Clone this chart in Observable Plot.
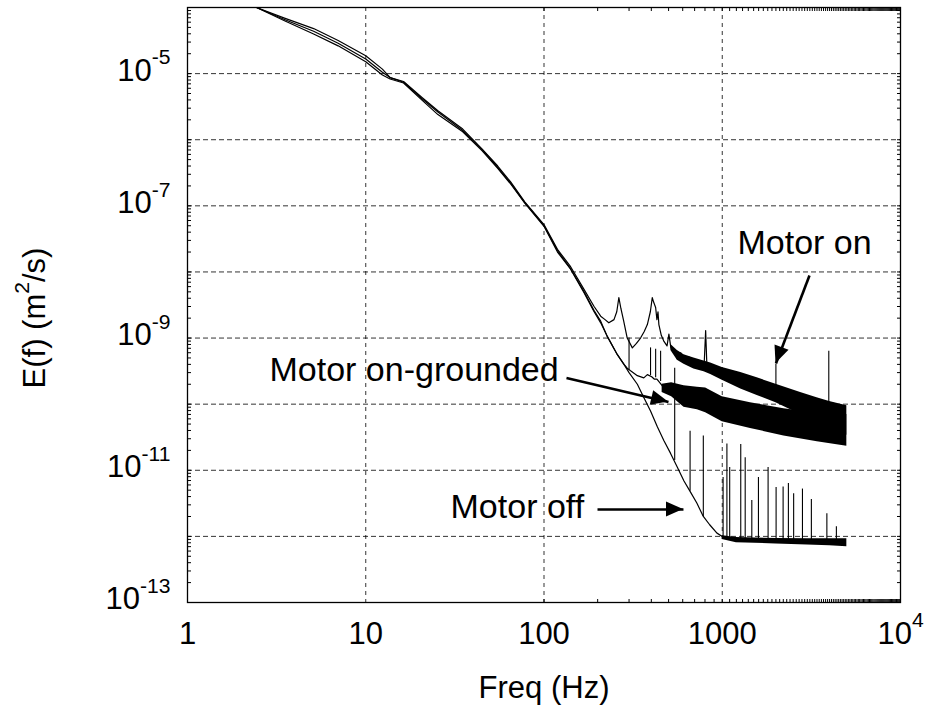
<!DOCTYPE html>
<html>
<head>
<meta charset="utf-8">
<script src="https://cdn.jsdelivr.net/npm/d3@7"></script>
<script src="https://cdn.jsdelivr.net/npm/@observablehq/plot@0.6"></script>
<style>
  html, body { margin: 0; padding: 0; background: #fff; }
  #chart svg { display: block; overflow: visible; }
</style>
</head>
<body>
<div id="chart"></div>
<script>
// ---------- Data (frequency in Hz, E(f) in m^2/s) ----------
const freqLow = [2.44, 3.5, 5.1, 7, 10, 12.4, 13.7, 16.3, 20.6, 25.4, 35, 45, 55, 65, 78, 100, 119, 141, 168, 191];
const onLow = [1.0e-4, 6.9e-5, 4.8e-5, 3.16e-5, 1.86e-5, 1.17e-5, 8.7e-6, 7.6e-6, 4.4e-6, 2.75e-6, 1.45e-6, 7.2e-7, 4.0e-7, 2.3e-7, 1.15e-7, 5.2e-8, 2.2e-8, 1.2e-8, 5.4e-9, 3.0e-9];
const groundedLow = [1.0e-4, 6.6e-5, 4.37e-5, 2.88e-5, 1.66e-5, 1.05e-5, 8.7e-6, 7.4e-6, 4.2e-6, 2.63e-6, 1.38e-6, 7.1e-7, 3.8e-7, 2.2e-7, 1.12e-7, 5.0e-8, 2.1e-8, 1.12e-8, 5.0e-9, 2.6e-9];
const offLow = [1.0e-4, 6.3e-5, 3.98e-5, 2.63e-5, 1.51e-5, 9.5e-6, 8.3e-6, 7.2e-6, 4.0e-6, 2.4e-6, 1.32e-6, 6.8e-7, 3.7e-7, 2.14e-7, 1.1e-7, 4.9e-8, 2.0e-8, 1.1e-8, 4.8e-9, 2.5e-9];

const onMidFreq = [208, 220, 231, 247, 256, 263, 270, 280, 293, 313, 330, 348, 365, 380, 395, 405, 412, 423, 430, 436, 441, 455, 471, 490, 502, 515, 536, 560, 585, 610, 650, 693, 740, 790, 807, 820, 861];
const onMid = [2.14e-9, 1.9e-9, 1.7e-9, 1.9e-9, 2.5e-9, 4.1e-9, 2.8e-9, 1.8e-9, 1.0e-9, 7.1e-10, 8.3e-10, 1.0e-9, 1.26e-9, 1.6e-9, 2.5e-9, 4.1e-9, 3.5e-9, 2.9e-9, 1.9e-9, 2.5e-9, 1.6e-9, 1.1e-9, 8.9e-10, 7.6e-10, 1.15e-9, 7.1e-10, 6.3e-10, 4.8e-10, 6.0e-10, 4.5e-10, 5.2e-10, 3.8e-10, 4.5e-10, 3.5e-10, 1.3e-9, 3.8e-10, 3.3e-10];

const groundedMidFreq = [208, 226, 258, 281, 293, 306, 334, 363, 380, 402, 415, 430, 460, 492, 520, 550];
const groundedMid = [1.8e-9, 1.07e-9, 5.6e-10, 4.0e-10, 3.5e-10, 3.2e-10, 2.7e-10, 2.5e-10, 2.8e-10, 2.6e-10, 2.4e-10, 2.4e-10, 1.9e-10, 1.66e-10, 2.0e-10, 1.3e-10];

const offMidFreq = [208, 226, 258, 281, 300, 334, 363, 396, 433, 471, 513, 559, 610, 660, 720, 783, 850, 934, 1000];
const offMid = [1.7e-9, 1.07e-9, 5.6e-10, 4.0e-10, 3.0e-10, 2.0e-10, 1.26e-10, 7.9e-11, 4.5e-11, 2.8e-11, 1.8e-11, 1.12e-11, 6.9e-12, 4.8e-12, 3.2e-12, 2.0e-12, 1.5e-12, 1.12e-12, 1.0e-12];

// dense noisy part: upper / lower envelope of the black band
const onBandFreq = [515, 560, 610, 693, 790, 861, 1000, 1270, 1570, 2000, 2750, 3400, 4000, 5000];
const onBandHigh = [8.0e-10, 6.5e-10, 5.6e-10, 5.0e-10, 4.5e-10, 4.2e-10, 3.6e-10, 3.0e-10, 2.5e-10, 2.0e-10, 1.5e-10, 1.25e-10, 1.1e-10, 9.5e-11];
const onBandLow = [6.5e-10, 4.6e-10, 4.0e-10, 3.4e-10, 3.1e-10, 2.8e-10, 2.3e-10, 1.7e-10, 1.35e-10, 1.05e-10, 7.0e-11, 5.5e-11, 4.3e-11, 3.4e-11];

const groundedBandFreq = [460, 520, 610, 725, 807, 1000, 1440, 2218, 3412, 5000];
const groundedBandHigh = [2.0e-10, 2.1e-10, 1.9e-10, 1.8e-10, 1.75e-10, 1.3e-10, 1.05e-10, 8.5e-11, 7.3e-11, 7.0e-11];
const groundedBandLow = [1.5e-10, 1.3e-10, 9.0e-11, 8.2e-11, 7.4e-11, 5.4e-11, 4.3e-11, 3.3e-11, 2.7e-11, 2.3e-11];

const offBandFreq = [1000, 1200, 2000, 3000, 4000, 5000];
const offBandHigh = [1.02e-12, 9.6e-13, 9.3e-13, 9.2e-13, 9.2e-13, 9.2e-13];
const offBandLow = [9.0e-13, 8.0e-13, 7.7e-13, 7.4e-13, 7.2e-13, 7.0e-13];

// narrow spectral spikes
const offSpikeFreq = [541, 660, 783, 1011, 1062, 1101, 1270, 1345, 1465, 1596, 1808, 2005, 2195, 2350, 2515, 2818, 3162, 3863, 4368];
const offSpikeBase = [1.4e-11, 4.8e-12, 2.0e-12, 1.0e-12, 1.0e-12, 9e-13, 9e-13, 9e-13, 9e-13, 9e-13, 9e-13, 9e-13, 9e-13, 9e-13, 9e-13, 9e-13, 9e-13, 9e-13, 9e-13];
const offSpikeTop = [3.5e-10, 3.9e-11, 3.3e-11, 7.8e-12, 2.5e-11, 1.1e-11, 2.45e-11, 1.55e-11, 3.5e-12, 7.8e-12, 1.1e-11, 5.5e-12, 5.6e-12, 6.3e-12, 4.4e-12, 5.2e-12, 3.6e-12, 2.2e-12, 1.4e-12];
const onSpikeFreq = [2000, 3960];
const onSpikeBase = [1.2e-10, 5.0e-11];
const onSpikeTop = [4.0e-10, 6.3e-10];
const groundedSpikeFreq = [300, 396, 423, 451];
const groundedSpikeBase = [3.3e-10, 2.7e-10, 2.5e-10, 2.2e-10];
const groundedSpikeTop = [1.0e-9, 7.1e-10, 6.8e-10, 6.3e-10];

// annotations
const labelText = ["Motor on", "Motor on-grounded", "Motor off"];
const labelFreq = [1218, 2.884, 29.9];
const labelE = [1.9e-8, 2.28e-10, 1.93e-12];
const arrowFromFreq = [3086, 133.7, 199.6];
const arrowFromE = [8.83e-9, 2.49e-10, 2.55e-12];
const arrowToFreq = [2002, 499.5, 606];
const arrowToE = [4.12e-10, 1.08e-10, 2.55e-12];

// axes
const xTickValues = [1, 10, 100, 1000, 10000];
const xTickLabels = ["1", "10", "100", "1000", "10^4"];
const yTickValues = [1e-13, 1e-11, 1e-9, 1e-7, 1e-5];
const yTickLabels = ["10^-13", "10^-11", "10^-9", "10^-7", "10^-5"];
const xGrid = [10, 100, 1000];
const yGrid = [1e-12, 1e-11, 1e-10, 1e-9, 1e-8, 1e-7, 1e-6, 1e-5];
const xTitle = "Freq (Hz)";
const yTitle = "E(f) (m^2/s)";

// ---------- tables ----------
function pts(series, fs, es) { return fs.map((f, i) => ({series, f, E: es[i]})); }
const lineRows = [
  ...pts("on", freqLow, onLow), ...pts("on", onMidFreq, onMid),
  ...pts("grounded", freqLow, groundedLow), ...pts("grounded", groundedMidFreq, groundedMid),
  ...pts("off", freqLow, offLow), ...pts("off", offMidFreq, offMid)
];
function band(series, fs, hi, lo) { return fs.map((f, i) => ({series, f, hi: hi[i], lo: lo[i]})); }
const bandRows = [
  ...band("on", onBandFreq, onBandHigh, onBandLow),
  ...band("grounded", groundedBandFreq, groundedBandHigh, groundedBandLow),
  ...band("off", offBandFreq, offBandHigh, offBandLow)
];
function spikes(fs, b, t) { return fs.map((f, i) => ({f, base: b[i], top: t[i]})); }
const spikeRows = [
  ...spikes(offSpikeFreq, offSpikeBase, offSpikeTop),
  ...spikes(onSpikeFreq, onSpikeBase, onSpikeTop),
  ...spikes(groundedSpikeFreq, groundedSpikeBase, groundedSpikeTop)
];
const labelRows = labelText.map((t, i) => ({t, f: labelFreq[i], E: labelE[i]}));
const arrowRows = arrowFromFreq.map((f, i) => ({f1: f, e1: arrowFromE[i], f2: arrowToFreq[i], e2: arrowToE[i]}));

const FONT = "'Liberation Sans', Arial, Helvetica, sans-serif";

const plot = Plot.plot({
  width: 930,
  height: 708,
  marginLeft: 187,
  marginRight: 30,
  marginTop: 7,
  marginBottom: 106,
  style: {fontFamily: FONT, background: "#fff", color: "#000", overflow: "visible"},
  x: {type: "log", domain: [1, 1e4]},
  y: {type: "log", domain: [1e-13, 1e-4]},
  marks: [
    Plot.gridX(xGrid, {stroke: "#000", strokeOpacity: 0.8, strokeWidth: 1, strokeDasharray: "4,4"}),
    Plot.gridY(yGrid, {stroke: "#000", strokeOpacity: 0.8, strokeWidth: 1, strokeDasharray: "5,3"}),
    // minor and major inward ticks
    Plot.axisY({anchor: "left", ticks: 80, tickSize: -4, tickFormat: () => "", label: null}),
    Plot.axisY({anchor: "right", ticks: 80, tickSize: -4, tickFormat: () => "", label: null}),
    Plot.axisX({anchor: "bottom", ticks: 80, tickSize: -3, tickFormat: () => "", label: null}),
    Plot.axisX({anchor: "top", ticks: 80, tickSize: -3, tickFormat: () => "", label: null}),
    // tick labels
    Plot.axisX(xTickValues, {anchor: "bottom", tickSize: 0, tickPadding: 19, fontSize: 31,
      tickFormat: d => xTickLabels[xTickValues.indexOf(d)], label: null}),
    Plot.axisY(yTickValues, {anchor: "left", tickSize: 0, tickPadding: 17, fontSize: 31, dy: -3,
      tickFormat: d => yTickLabels[yTickValues.indexOf(d)], label: null}),
    // data
    Plot.areaY(bandRows, {x: "f", y1: "lo", y2: "hi", z: "series", fill: "#000", curve: "linear"}),
    Plot.line(lineRows, {x: "f", y: "E", z: "series", stroke: "#000", strokeWidth: 1.2, curve: "linear"}),
    Plot.ruleX(spikeRows, {x: "f", y1: "base", y2: "top", stroke: "#000", strokeWidth: 1.1}),
    Plot.frame({stroke: "#000", strokeWidth: 1.3}),
    // annotations
    Plot.text(labelRows, {x: "f", y: "E", text: "t", textAnchor: "start", lineAnchor: "bottom", fontSize: 34, fill: "#000"}),
    Plot.link(arrowRows, {x1: "f1", y1: "e1", x2: "f2", y2: "e2", stroke: "#000", strokeWidth: 2.6}),
    // axis titles
    Plot.text([xTitle], {frameAnchor: "bottom", text: d => d, textAnchor: "middle", lineAnchor: "bottom", dy: 95, fontSize: 31, fill: "#000"}),
    Plot.text([yTitle], {frameAnchor: "left", text: d => d, rotate: -90, textAnchor: "middle", lineAnchor: "middle", dx: -152, dy: 13, fontSize: 31, fill: "#000"})
  ]
});

document.getElementById("chart").appendChild(plot);

// arrowheads, placed through the plot's own scales
const sx = plot.scale("x"), sy = plot.scale("y");
const headG = d3.select(plot).append("g").attr("aria-label", "arrowheads");
arrowRows.forEach(a => {
  const x1 = sx.apply(a.f1), y1 = sy.apply(a.e1), x2 = sx.apply(a.f2), y2 = sy.apply(a.e2);
  const ang = Math.atan2(y2 - y1, x2 - x1);
  const L = 17, Wd = 7.5;
  const bx = x2 - L * Math.cos(ang), by = y2 - L * Math.sin(ang);
  const px = -Math.sin(ang) * Wd, py = Math.cos(ang) * Wd;
  headG.append("polygon")
    .attr("points", `${x2},${y2} ${bx + px},${by + py} ${bx - px},${by - py}`)
    .attr("fill", "#000");
});

// superscripts: "a^b" -> a<tspan sup>b</tspan>
const NS = "http://www.w3.org/2000/svg";
plot.querySelectorAll("text").forEach(t => {
  const s = t.textContent;
  const i = s.indexOf("^");
  if (i < 0) return;
  const m = s.slice(i + 1).match(/^(-?\d+)(.*)$/);
  if (!m) return;
  const fs = parseFloat(getComputedStyle(t).fontSize) || 31;
  const pre = s.slice(0, i), sup = m[1], post = m[2];
  const rise = 0.52 * fs;
  t.textContent = "";
  const a = document.createElementNS(NS, "tspan"); a.textContent = pre; t.appendChild(a);
  const b = document.createElementNS(NS, "tspan"); b.textContent = sup;
  b.setAttribute("font-size", (0.68 * fs).toFixed(1));
  b.setAttribute("dy", (-rise).toFixed(1));
  t.appendChild(b);
  if (post) {
    const c = document.createElementNS(NS, "tspan"); c.textContent = post;
    c.setAttribute("dy", rise.toFixed(1));
    t.appendChild(c);
  }
});
</script>
</body>
</html>
